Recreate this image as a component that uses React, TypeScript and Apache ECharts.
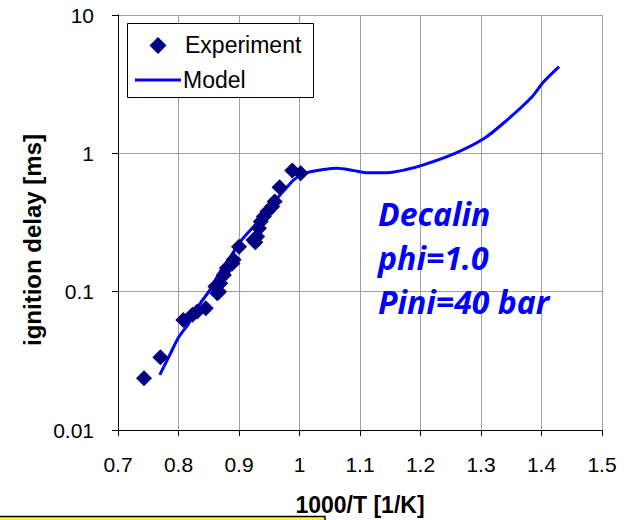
import React, { useEffect, useRef } from 'react';
import * as echarts from 'echarts';

// Experiment data (1000/T, ignition delay ms)
const expX = [0.743, 0.770, 0.808, 0.823, 0.831, 0.845, 0.861, 0.864, 0.867, 0.869, 0.875, 0.880, 0.889, 0.891, 0.900, 0.924, 0.927, 0.930, 0.933, 0.936, 0.941, 0.947, 0.955, 0.959, 0.967, 0.988, 1.002];
const expY = [0.0237, 0.0336, 0.0624, 0.068, 0.072, 0.076, 0.109, 0.0975, 0.1, 0.115, 0.132, 0.148, 0.160, 0.170, 0.211, 0.236, 0.228, 0.250, 0.287, 0.321, 0.349, 0.379, 0.412, 0.448, 0.569, 0.75, 0.718];

// Model curve
const modelX = [0.769, 0.787, 0.8005, 0.817, 0.836, 0.850, 0.869, 0.886, 0.902, 0.924, 0.947, 0.963, 0.980, 0.990, 1.004, 1.018, 1.040, 1.062, 1.090, 1.112, 1.145, 1.175, 1.205, 1.255, 1.305, 1.343, 1.382, 1.404, 1.429];
const modelY = [0.025, 0.036, 0.047, 0.059, 0.0824, 0.1, 0.14, 0.179, 0.23, 0.295, 0.379, 0.473, 0.574, 0.64, 0.706, 0.735, 0.765, 0.78, 0.75, 0.725, 0.725, 0.76, 0.825, 0.99, 1.28, 1.74, 2.5, 3.3, 4.24];

const annotationLines = ['Decalin', 'phi=1.0', 'Pini=40 bar'];
const xName = '1000/T [1/K]';
const yName = 'ignition delay [ms]';
const seriesNames = ['Experiment', 'Model'];

const EXP_COLOR = '#000080';
const MODEL_COLOR = '#0000ff';

export default function App() {
  const ref = useRef<HTMLDivElement>(null);
  useEffect(() => {
    const chart = echarts.init(ref.current!, null, { renderer: 'svg' });
    const font = 'Liberation Sans';
    chart.setOption({
      animation: false,
      backgroundColor: '#ffffff',
      textStyle: { fontFamily: font },
      grid: { left: 118, right: 29, top: 15, bottom: 90, outerBoundsMode: 'none' },
      xAxis: {
        type: 'value',
        min: 0.7,
        max: 1.5,
        interval: 0.1,
        name: xName,
        nameLocation: 'middle',
        nameGap: 75,
        nameTextStyle: { fontSize: 23, fontWeight: 'bold', color: '#000', verticalAlign: 'middle', fontFamily: font },
        axisLine: { show: true, lineStyle: { color: '#000', width: 1 } },
        axisTick: { show: true, length: 6, lineStyle: { color: '#000' } },
        axisLabel: {
          fontSize: 21,
          color: '#000',
          margin: 24,
          formatter: (v: number) => String(Math.round(v * 10) / 10),
        },
        splitLine: { show: true, lineStyle: { color: '#a0a0a0', width: 1 } },
      },
      yAxis: {
        type: 'log',
        logBase: 10,
        min: 0.01,
        max: 10,
        axisLine: { show: true, lineStyle: { color: '#000', width: 1 } },
        axisTick: { show: true, length: 6, lineStyle: { color: '#000' } },
        minorTick: { show: false },
        axisLabel: {
          fontSize: 21,
          color: '#000',
          margin: 24,
          formatter: (v: number) => (v >= 1 ? String(Math.round(v)) : String(Number(v.toPrecision(1)))),
        },
        splitLine: { show: true, lineStyle: { color: '#a0a0a0', width: 1 } },
      },
      series: [
        {
          name: seriesNames[1],
          type: 'line',
          data: modelX.map((x, i) => [x, modelY[i]]),
          symbol: 'none',
          smooth: 0.3,
          lineStyle: { color: MODEL_COLOR, width: 3 },
          itemStyle: { color: MODEL_COLOR },
          z: 2,
        },
        {
          name: seriesNames[0],
          type: 'scatter',
          data: expX.map((x, i) => [x, expY[i]]),
          symbol: 'diamond',
          symbolSize: 16,
          itemStyle: { color: EXP_COLOR, opacity: 1 },
          z: 3,
        },
      ],
      graphic: [
        // legend box
        {
          type: 'rect',
          z: 20,
          shape: { x: 127.5, y: 23.5, width: 186, height: 74 },
          style: { fill: '#fff', stroke: '#000', lineWidth: 1 },
        },
        {
          type: 'polygon',
          z: 21,
          shape: { points: [[158, 37], [166.5, 45.5], [158, 54], [149.5, 45.5]] },
          style: { fill: EXP_COLOR },
        },
        {
          type: 'text',
          z: 21,
          x: 185,
          y: 45,
          style: { text: seriesNames[0], fill: '#000', fontSize: 23, fontFamily: font, align: 'left', verticalAlign: 'middle' },
        },
        {
          type: 'line',
          z: 21,
          shape: { x1: 135, y1: 80, x2: 181, y2: 80 },
          style: { stroke: MODEL_COLOR, lineWidth: 3 },
        },
        {
          type: 'text',
          z: 21,
          x: 183,
          y: 80,
          style: { text: seriesNames[1], fill: '#000', fontSize: 23, fontFamily: font, align: 'left', verticalAlign: 'middle' },
        },
        ...annotationLines.map((t, i) => ({
          type: 'text',
          x: 378,
          y: 213 + i * 44,
          z: 10,
          style: {
            text: t,
            fill: MODEL_COLOR,
            fontSize: 32,
            fontWeight: 'bold',
            fontStyle: 'italic',
            fontFamily: 'Open Sans',
            align: 'left',
            verticalAlign: 'middle',
          },
        })),
        {
          type: 'text',
          x: 32,
          y: 240,
          rotation: Math.PI / 2,
          style: {
            text: yName,
            fill: '#000',
            fontSize: 24,
            fontWeight: 'bold',
            fontFamily: font,
            align: 'center',
            verticalAlign: 'middle',
          },
        },
        {
          type: 'rect',
          shape: { x: -2, y: 516.5, width: 327, height: 10 },
          style: { fill: '#f8f53c', stroke: '#000', lineWidth: 1.5 },
        },
      ],
    });
    return () => chart.dispose();
  }, []);
  return (
    <div
      ref={ref}
      style={{ position: 'absolute', left: 0, top: 0, width: 631, height: 520, background: '#fff' }}
    />
  );
}
